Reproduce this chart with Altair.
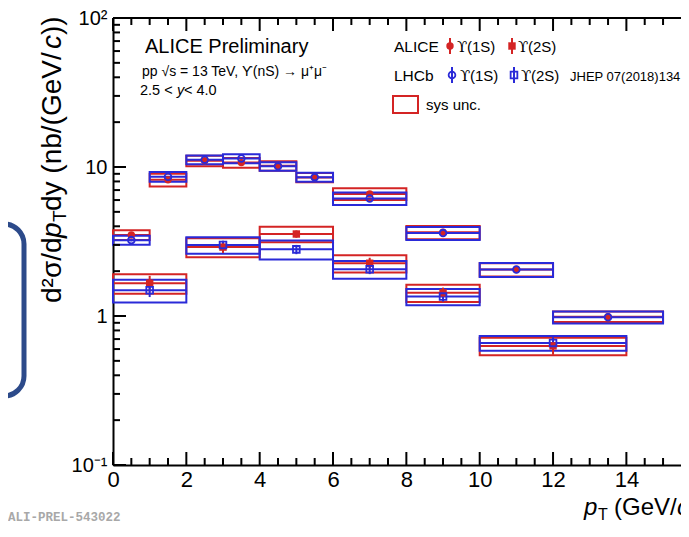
import altair as alt
import pandas as pd

RED = "#d42424"
BLUE = "#2a2ad8"
FONT = "Liberation Sans"
SERIF = "DejaVu Serif"

# ---------------- data ----------------
lo_1s = [0, 1, 2, 3, 4, 5, 6, 8, 10, 12]
hi_1s = [1, 2, 3, 4, 5, 6, 8, 10, 12, 15]
alice_1s = [3.50, 8.2, 11.0, 10.7, 10.2, 8.5, 6.6, 3.65, 2.05, 0.99]
alice_1s_sys = [0.26, 0.80, 0.90, 0.80, 0.75, 0.60, 0.60, 0.37, 0.21, 0.08]
alice_1s_stat = [0.15, 0.30, 0.30, 0.35, 0.30, 0.25, 0.20, 0.12, 0.08, 0.05]
lhcb_1s = [3.23, 8.6, 11.2, 11.4, 10.1, 8.55, 6.15, 3.6, 2.05, 0.98]
lhcb_1s_sys = [0.22, 0.65, 0.75, 0.80, 0.65, 0.60, 0.60, 0.36, 0.22, 0.09]
lhcb_1s_stat = [0.06, 0.10, 0.10, 0.10, 0.10, 0.08, 0.06, 0.04, 0.03, 0.02]

lo_2s = [0, 2, 4, 6, 8, 10]
hi_2s = [2, 4, 6, 8, 10, 14]
alice_2s = [1.66, 2.9, 3.55, 2.26, 1.43, 0.63]
alice_2s_sys = [0.25, 0.42, 0.42, 0.30, 0.19, 0.085]
alice_2s_stat = [0.20, 0.25, 0.20, 0.20, 0.12, 0.08]
lhcb_2s = [1.49, 3.0, 2.8, 2.06, 1.35, 0.66]
lhcb_2s_sys = [0.26, 0.38, 0.41, 0.28, 0.17, 0.075]
lhcb_2s_stat = [0.15, 0.20, 0.20, 0.15, 0.10, 0.06]

y_major = [0.1, 1, 10, 100]
y_minor = [m * d for d in [0.1, 1, 10] for m in range(2, 10)]
x_major = [0, 2, 4, 6, 8, 10, 12, 14]
x_minor = [i * 0.5 for i in range(0, 31) if (i * 0.5) % 2 != 0]

SVG_W, SVG_H = 673, 516
X0, Y0 = 113, 18  # page position of plot origin
W = SVG_W - (X0 - 8)
H = 447
PX_PER_UNIT = 36.67


def frame(lo, hi, val, sys, stat):
    return pd.DataFrame({
        "lo": lo, "hi": hi,
        "x": [(a + b) / 2 for a, b in zip(lo, hi)],
        "val": val,
        "slo": [v - s for v, s in zip(val, sys)],
        "shi": [v + s for v, s in zip(val, sys)],
        "elo": [v - s for v, s in zip(val, stat)],
        "ehi": [v + s for v, s in zip(val, stat)],
    })


a1 = frame(lo_1s, hi_1s, alice_1s, alice_1s_sys, alice_1s_stat)
a2 = frame(lo_2s, hi_2s, alice_2s, alice_2s_sys, alice_2s_stat)
l1 = frame(lo_1s, hi_1s, lhcb_1s, lhcb_1s_sys, lhcb_1s_stat)
l2 = frame(lo_2s, hi_2s, lhcb_2s, lhcb_2s_sys, lhcb_2s_stat)
red_df = pd.concat([a1, a2], ignore_index=True)
blue_df = pd.concat([l1, l2], ignore_index=True)

xs = alt.Scale(domain=[0, W / PX_PER_UNIT], nice=False, zero=False)
ys = alt.Scale(type="log", domain=[0.1, 100], nice=False)

XAX = alt.Axis(values=x_major, ticks=False, grid=False, title=None, labelFont=FONT,
               labelFontSize=22, labelColor="black", labelPadding=4, labelFlush=False,
               labelOverlap=False, domainColor="black", domainWidth=2)
YAX = alt.Axis(values=y_major, ticks=False, grid=False, title=None, labelFont=FONT,
               labelFontSize=20, labelColor="black", labelPadding=6, labelFlush=False,
               labelOverlap=False, domainColor="black", domainWidth=2,
               labelExpr="datum.value >= 99 ? '10²' : datum.value >= 9 ? '10' : "
                         "datum.value >= 0.9 ? '1' : '10⁻¹'")


def X(f):
    return alt.X(f, scale=xs, axis=XAX)


def Y(f):
    return alt.Y(f, scale=ys, axis=YAX)


def boxes(df, col):
    return alt.Chart(df).mark_rect(fill="transparent", stroke=col, strokeWidth=2).encode(
        x=X("lo:Q"), x2="hi:Q", y=Y("slo:Q"), y2="shi:Q")


def hlines(df, col):
    return alt.Chart(df).mark_rule(color=col, strokeWidth=2).encode(
        x=X("lo:Q"), x2="hi:Q", y=Y("val:Q"))


def vbars(df, col):
    return alt.Chart(df).mark_rule(color=col, strokeWidth=2).encode(
        x=X("x:Q"), y=Y("elo:Q"), y2="ehi:Q")


def points(df, col, shape, filled, size):
    if filled:
        m = alt.Chart(df).mark_point(shape=shape, filled=True, color=col, size=size, opacity=1)
    else:
        m = alt.Chart(df).mark_point(shape=shape, filled=False, color=col, size=size,
                                     strokeWidth=1.8, opacity=1)
    return m.encode(x=X("x:Q"), y=Y("val:Q"))


def yticks(vals, L):
    return alt.Chart(pd.DataFrame({"v": vals})).mark_rule(color="black", strokeWidth=2).encode(
        y=Y("v:Q"), x=alt.value(0), x2=alt.value(L))


def xticks(vals, L, top):
    ya, yb = (0, L) if top else (H, H - L)
    return alt.Chart(pd.DataFrame({"v": vals})).mark_rule(color="black", strokeWidth=2).encode(
        x=X("v:Q"), y=alt.value(ya), y2=alt.value(yb))


top_line = alt.Chart(pd.DataFrame({"a": [0]})).mark_rule(color="black", strokeWidth=2).encode(
    x=alt.value(0), x2=alt.value(W), y=alt.value(0))


def txt(s, px, py, size, color="black", font=FONT, align="left", angle=0,
        italic=False, bold=False, baseline="alphabetic"):
    kw = dict(align=align, baseline=baseline, fontSize=size, font=font, color=color)
    if angle:
        kw["angle"] = angle
    if italic:
        kw["fontStyle"] = "italic"
    if bold:
        kw["fontWeight"] = "bold"
    return alt.Chart(pd.DataFrame({"t": [s]})).mark_text(**kw).encode(
        x=alt.value(px - X0), y=alt.value(py - Y0), text="t:N")


def ups(state, px, py, size=15):
    return [txt("ϒ", px, py, size, font=SERIF), txt("(" + state + ")", px + 10, py, size)]


def lg_marker(px, py, col, shape, filled):
    d = pd.DataFrame({"a": [0]})
    bar = alt.Chart(d).mark_rule(color=col, strokeWidth=2).encode(
        x=alt.value(px - X0), y=alt.value(py - 8 - Y0), y2=alt.value(py + 8 - Y0))
    if filled:
        p = alt.Chart(d).mark_point(shape=shape, filled=True, color=col, size=55, opacity=1)
    else:
        p = alt.Chart(d).mark_point(shape=shape, filled=False, color=col, size=45,
                                    strokeWidth=1.8, opacity=1)
    p = p.encode(x=alt.value(px - X0), y=alt.value(py - Y0))
    return bar + p


sys_key = alt.Chart(pd.DataFrame({"a": [0]})).mark_rect(
    fill="transparent", stroke=RED, strokeWidth=2).encode(
    x=alt.value(393 - X0), x2=alt.value(418 - X0), y=alt.value(96 - Y0), y2=alt.value(113 - Y0))

loop = alt.Chart(pd.DataFrame({"a": [0]})).mark_rect(
    fill="transparent", stroke="#2c4a8a", strokeWidth=5, cornerRadius=20).encode(
    x=alt.value(-30 - X0), x2=alt.value(24 - X0), y=alt.value(224 - Y0), y2=alt.value(396 - Y0))

# y-axis title pieces (rotated)
YT_X, YT_Y, YS = 61, 303, 28
yt = [
    txt("d²σ/d", YT_X, YT_Y, YS, angle=270),
    txt("p", YT_X, YT_Y - 65, YS, angle=270, italic=True),
    txt("T", YT_X + 5, YT_Y - 81, 19, angle=270),
    txt(" dy (nb/(GeV/", YT_X, YT_Y - 92, YS, angle=270),
    txt("c", YT_X, YT_Y - 254, YS, angle=270, italic=True),
    txt("))", YT_X, YT_Y - 268, YS, angle=270),
]

xt = [
    txt("p", 584, 515, 24, italic=True),
    txt("T", 598, 520, 16),
    txt("(GeV/", 614, 515, 24),
    txt("c", 677, 515, 24, italic=True),
]

labels = [
    txt("ALICE Preliminary", 145, 53, 20),
    txt("pp √s = 13 TeV, ϒ(nS) → μ⁺μ⁻", 142, 76, 14),
    txt("2.5 < ", 140, 95, 14.5),
    txt("y", 177, 95, 14.5, italic=True),
    txt(" < 4.0", 184, 95, 14.5),
    txt("ALICE", 394, 52, 15.5),
    txt("LHCb", 394, 81, 15.5),
    txt("JHEP 07(2018)134", 570, 81, 13),
    txt("sys unc.", 426, 110, 15),
    txt("ALI-PREL-543022", 8, 521, 12.5, color="#a8a8a8", font="Liberation Mono", bold=True),
] + ups("1S", 457, 52) + ups("2S", 518, 52) + ups("1S", 460, 81) + ups("2S", 521, 81)

layers = [
    boxes(red_df, RED), hlines(red_df, RED),
    boxes(blue_df, BLUE), hlines(blue_df, BLUE),
    vbars(red_df, RED), vbars(blue_df, BLUE),
    points(a1, RED, "circle", True, 55), points(a2, RED, "square", True, 55),
    points(l1, BLUE, "circle", False, 45), points(l2, BLUE, "square", False, 45),
    yticks(y_major, 13), yticks(y_minor, 7),
    xticks(x_major, 13, False), xticks(x_minor, 7, False),
    xticks(x_major, 13, True), xticks(x_minor, 7, True),
    top_line,
    lg_marker(450, 46, RED, "circle", True), lg_marker(512, 46, RED, "square", True),
    lg_marker(452, 75, BLUE, "circle", False), lg_marker(514, 75, BLUE, "square", False),
    sys_key, loop,
] + yt + xt + labels

chart = alt.layer(*layers).properties(
    width=W, height=H,
    autosize=alt.AutoSizeParams(type="none"),
    padding={"left": X0 - 8, "top": Y0 - 8, "right": 0, "bottom": SVG_H - H - (Y0 - 8)},
).configure_view(strokeWidth=0).configure(background="white")

chart.save("out.html", embed_options={"renderer": "svg", "actions": False})
